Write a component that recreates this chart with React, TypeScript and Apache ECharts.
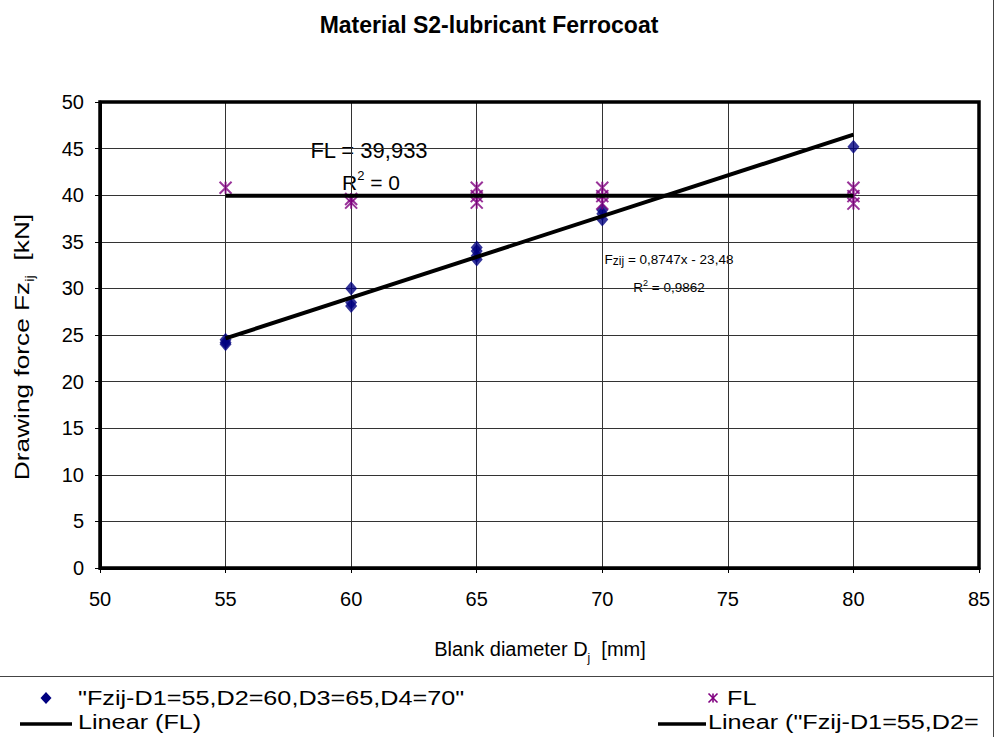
import React, { useEffect, useRef } from 'react';
import * as echarts from 'echarts';

const FONT = '"Liberation Sans", Arial, sans-serif';

// Axis ranges / ticks
const xMin = 50;
const xMax = 85;
const xStep = 5;
const yMin = 0;
const yMax = 50;
const yStep = 5;

// Series: drawing force Fzij (diamonds)
const fzName = '"Fzij-D1=55,D2=60,D3=65,D4=70"';
const fzX = [55, 55, 55, 60, 60, 60, 65, 65, 65, 65, 70, 70, 70, 80];
const fzY = [24.5, 24.2, 24.0, 30.0, 28.5, 28.1, 34.4, 34.0, 33.5, 33.1, 38.4, 38.0, 37.4, 45.2];

// Series: FL (asterisks)
const flName = 'FL';
const flX = [55, 60, 60, 65, 65, 65, 70, 70, 70, 80, 80, 80];
const flY = [40.8, 39.6, 39.2, 40.8, 39.9, 39.2, 40.8, 39.9, 39.1, 40.8, 39.9, 39.1];

// Trendlines (end points)
const flTrendName = 'Linear (FL)';
const flTrendX = [55, 80];
const flTrendY = [39.933, 39.933];
const fzTrendName = 'Linear ("Fzij-D1=55,D2=60,D3=65,D4=70")';
const fzTrendLegendVisible = 'Linear ("Fzij-D1=55,D2=';
const fzTrendX = [55, 80];
const fzTrendY = [24.63, 46.5];

const ASTERISK = 'path://M0,0L10,10M10,0L0,10M5,0L5,10';

// plot area in pixels (grid)
const GRID = { left: 100, top: 102, right: 17, bottom: 169 };
const W = 996;
const H = 737;

function pairs(xs: number[], ys: number[]) {
  return xs.map((x, i) => [x, ys[i]]);
}

function buildOption() {
  const legendText = (text: string, x: number, y: number) => ({
    type: 'text',
    x,
    y,
    scaleX: 1.2,
    style: { text, fontSize: 21, fontFamily: FONT, fill: '#000', align: 'left', verticalAlign: 'middle' },
  });
  const asterisk = (cx: number, cy: number, r: number, color: string) => ({
    type: 'group',
    children: [
      { type: 'line', shape: { x1: cx - r, y1: cy - r, x2: cx + r, y2: cy + r }, style: { stroke: color, lineWidth: 1.6 } },
      { type: 'line', shape: { x1: cx + r, y1: cy - r, x2: cx - r, y2: cy + r }, style: { stroke: color, lineWidth: 1.6 } },
      { type: 'line', shape: { x1: cx, y1: cy - r, x2: cx, y2: cy + r }, style: { stroke: color, lineWidth: 1.6 } },
    ],
  });

  return {
    animation: false,
    backgroundColor: '#fff',
    grid: {
      left: GRID.left,
      top: GRID.top,
      right: GRID.right,
      bottom: GRID.bottom,
      show: false,
    },
    xAxis: {
      type: 'value',
      min: xMin,
      max: xMax,
      interval: xStep,
      axisLine: { show: true, lineStyle: { color: '#000', width: 3 } },
      axisTick: { show: true, length: 5, lineStyle: { color: '#000', width: 1 } },
      axisLabel: { fontSize: 20, color: '#000', fontFamily: FONT, margin: 21 },
      splitLine: { show: true, lineStyle: { color: '#333', width: 1 } },
    },
    yAxis: {
      type: 'value',
      min: yMin,
      max: yMax,
      interval: yStep,
      axisLine: { show: true, lineStyle: { color: '#000', width: 3 } },
      axisTick: { show: true, length: 5, lineStyle: { color: '#000', width: 1 } },
      axisLabel: { fontSize: 20, color: '#000', fontFamily: FONT, margin: 16 },
      splitLine: { show: true, lineStyle: { color: '#333', width: 1 } },
    },
    series: [
      {
        name: fzName,
        type: 'scatter',
        data: pairs(fzX, fzY),
        symbol: 'diamond',
        symbolSize: [12, 14],
        itemStyle: { color: '#000080' },
        z: 2,
      },
      {
        name: flName,
        type: 'scatter',
        data: pairs(flX, flY),
        symbol: ASTERISK,
        symbolSize: 12,
        itemStyle: { color: 'transparent', borderColor: '#800080', borderWidth: 2 },
        z: 2,
      },
      {
        name: flTrendName,
        type: 'line',
        data: pairs(flTrendX, flTrendY),
        symbol: 'none',
        lineStyle: { color: '#000', width: 4 },
        z: 3,
      },
      {
        name: fzTrendName,
        type: 'line',
        data: pairs(fzTrendX, fzTrendY),
        symbol: 'none',
        lineStyle: { color: '#000', width: 4 },
        z: 3,
      },
    ],
    graphic: [
      // Plot area border (thick)
      {
        type: 'rect',
        shape: {
          x: GRID.left,
          y: GRID.top,
          width: W - GRID.left - GRID.right,
          height: H - GRID.top - GRID.bottom,
        },
        style: { fill: 'none', stroke: '#000', lineWidth: 3.5 },
        z: 50,
      },
      // Title
      {
        type: 'text',
        x: 489,
        y: 25,
        style: {
          text: 'Material S2-lubricant Ferrocoat',
          fontSize: 23,
          fontWeight: 'bold',
          fontFamily: FONT,
          fill: '#000',
          align: 'center',
          verticalAlign: 'middle',
        },
      },
      // Y axis name
      {
        type: 'text',
        x: 21,
        y: 347,
        rotation: Math.PI / 2,
        scaleX: 1.25,
        style: {
          text: 'Drawing force Fz{sub|ij}  [kN]',
          fontSize: 21,
          lineHeight: 30,
          fontFamily: FONT,
          fill: '#000',
          align: 'center',
          verticalAlign: 'middle',
          rich: {
            sub: { fontSize: 12, lineHeight: 12, verticalAlign: 'bottom', fontFamily: FONT, fill: '#000' },
          },
        },
      },
      // X axis name
      {
        type: 'text',
        x: 540,
        y: 649,
        style: {
          text: 'Blank diameter D{sub|j}  [mm]',
          fontSize: 20,
          lineHeight: 30,
          fontFamily: FONT,
          fill: '#000',
          align: 'center',
          verticalAlign: 'middle',
          rich: {
            sub: { fontSize: 12, lineHeight: 12, verticalAlign: 'bottom', fontFamily: FONT, fill: '#000' },
          },
        },
      },
      // Trendline labels
      {
        type: 'text',
        x: 369,
        y: 150,
        style: { text: 'FL = 39,933', fontSize: 22, fontFamily: FONT, fill: '#000', align: 'center', verticalAlign: 'middle' },
      },
      {
        type: 'text',
        x: 371,
        y: 182,
        style: {
          text: 'R{sup|2} = 0',
          fontSize: 21,
          lineHeight: 26,
          fontFamily: FONT,
          fill: '#000',
          align: 'center',
          verticalAlign: 'middle',
          rich: { sup: { fontSize: 13, lineHeight: 13, verticalAlign: 'top', fontFamily: FONT, fill: '#000' } },
        },
      },
      {
        type: 'text',
        x: 669,
        y: 259,
        style: {
          text: 'F{s|zij} = 0,8747x - 23,48',
          fontSize: 13.5,
          lineHeight: 15,
          fontFamily: FONT,
          fill: '#000',
          align: 'center',
          verticalAlign: 'middle',
          rich: { s: { fontSize: 12, lineHeight: 13, verticalAlign: 'bottom', fontFamily: FONT, fill: '#000' } },
        },
      },
      {
        type: 'text',
        x: 669,
        y: 287,
        style: {
          text: 'R{sup|2} = 0,9862',
          fontSize: 13.5,
          lineHeight: 17,
          fontFamily: FONT,
          fill: '#000',
          align: 'center',
          verticalAlign: 'middle',
          rich: { sup: { fontSize: 9, lineHeight: 9, verticalAlign: 'top', fontFamily: FONT, fill: '#000' } },
        },
      },
      // Legend frame
      { type: 'line', shape: { x1: 0, y1: 676.5, x2: 993, y2: 676.5 }, style: { stroke: '#444', lineWidth: 1 } },
      // Legend entries
      {
        type: 'polygon',
        shape: { points: [[46, 692], [51.5, 698], [46, 704], [40.5, 698]] },
        style: { fill: '#000080' },
      },
      legendText(fzName, 78, 698),
      asterisk(713, 698, 4.5, '#800080'),
      legendText(flName, 727, 698),
      { type: 'line', shape: { x1: 20, y1: 724, x2: 72, y2: 724 }, style: { stroke: '#000', lineWidth: 3.5 } },
      legendText(flTrendName, 78, 722),
      { type: 'line', shape: { x1: 658, y1: 724, x2: 706, y2: 724 }, style: { stroke: '#000', lineWidth: 3.5 } },
      legendText(fzTrendLegendVisible, 708, 722),
      { type: 'line', shape: { x1: 993.5, y1: 0, x2: 993.5, y2: 737 }, style: { stroke: '#444', lineWidth: 1 }, z: 101 },
    ],
  };
}

export default function App() {
  const ref = useRef<HTMLDivElement>(null);
  useEffect(() => {
    if (!ref.current) return;
    const chart = echarts.init(ref.current, null, { renderer: 'svg' });
    chart.setOption(buildOption() as any);
    return () => {
      chart.dispose();
    };
  }, []);
  return (
    <div
      ref={ref}
      style={{ width: W, height: H, position: 'absolute', left: 0, top: 0, background: '#fff' }}
    />
  );
}
